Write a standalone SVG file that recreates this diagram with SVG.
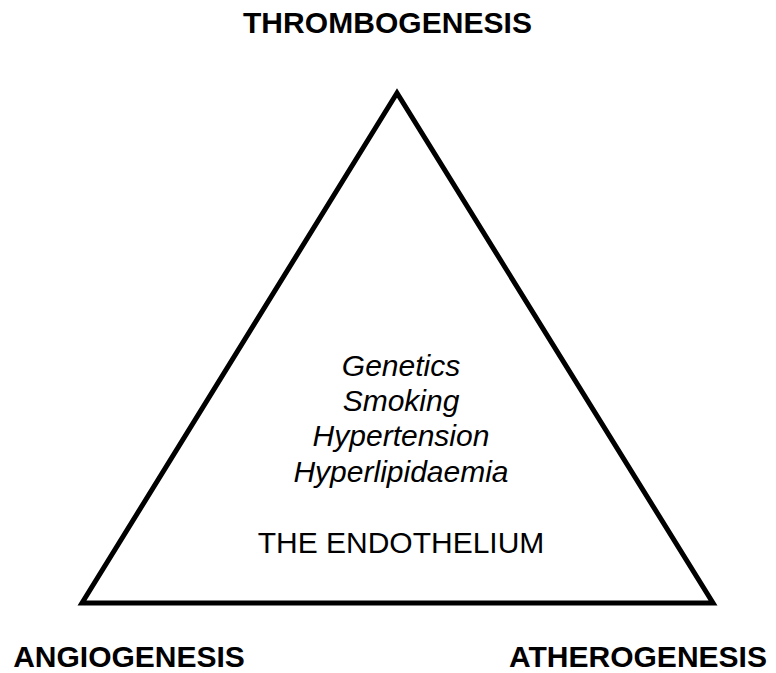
<svg xmlns="http://www.w3.org/2000/svg" width="776" height="673" viewBox="0 0 776 673">
<style>
.lbl{font-family:"Liberation Sans",Arial,sans-serif;font-weight:bold;font-size:30px;fill:#000;text-anchor:middle}
.it{font-family:"Liberation Sans",Arial,sans-serif;font-style:italic;font-size:30px;fill:#000;text-anchor:middle}
.rg{font-family:"Liberation Sans",Arial,sans-serif;font-size:30px;fill:#000;text-anchor:middle}
</style>
<rect width="776" height="673" fill="#fff"/>
<g id="connectors">
<polygon points="397,93 82,603 713,603" fill="none" stroke="#000" stroke-width="5" stroke-linejoin="miter"/>
</g>
<g id="thrombogenesis"><text class="lbl" x="387.5" y="33" font-size="28" textLength="289" lengthAdjust="spacing">THROMBOGENESIS</text></g>
<g id="angiogenesis"><text class="lbl" x="129" y="667">ANGIOGENESIS</text></g>
<g id="atherogenesis"><text class="lbl" x="638" y="667">ATHEROGENESIS</text></g>
<g id="endothelium">
<text class="it" x="401" y="376">Genetics</text>
<text class="it" x="401" y="411">Smoking</text>
<text class="it" x="401" y="446">Hypertension</text>
<text class="it" x="401" y="482">Hyperlipidaemia</text>
<text class="rg" x="401" y="553">THE ENDOTHELIUM</text>
</g>
</svg>
